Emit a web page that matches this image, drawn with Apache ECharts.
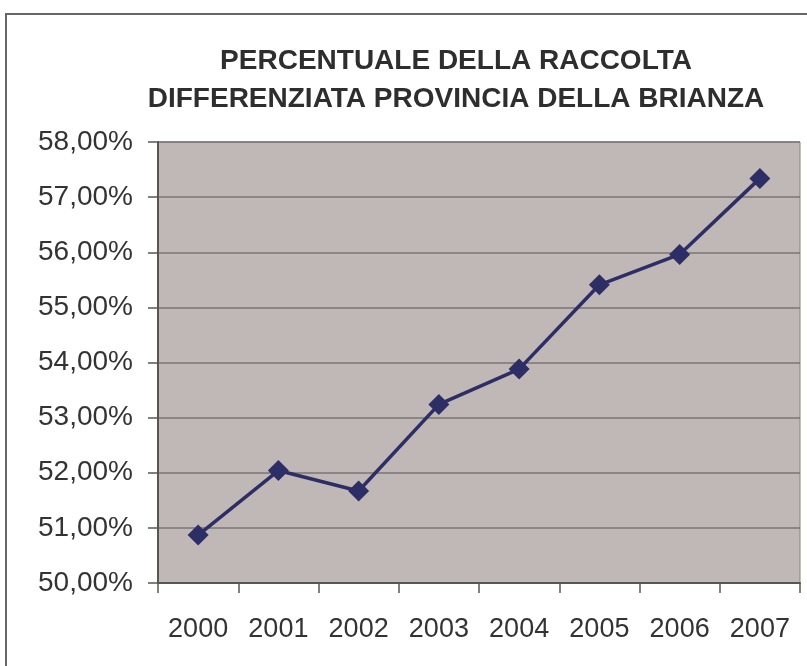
<!DOCTYPE html>
<html>
<head>
<meta charset="utf-8">
<script src="https://cdn.jsdelivr.net/npm/echarts@6/dist/echarts.min.js"></script>
<style>
  html, body { margin: 0; padding: 0; background: #fff; }
  #chart { width: 807px; height: 666px; }
</style>
</head>
<body>
<div id="chart"></div>
<script>
// anni e percentuale di raccolta differenziata
var years = ['2000', '2001', '2002', '2003', '2004', '2005', '2006', '2007'];
var percentuali = [50.87, 52.04, 51.67, 53.24, 53.88, 55.41, 55.96, 57.34];
var titleLines = ['PERCENTUALE DELLA RACCOLTA', 'DIFFERENZIATA PROVINCIA DELLA BRIANZA'];

var chart = echarts.init(document.getElementById('chart'));

chart.setOption({
    animation: false,
    backgroundColor: '#fff',
    title: {
        text: titleLines.join('\n'),
        left: 451,
        top: 37,
        textAlign: 'center',
        textStyle: {
            fontFamily: 'Liberation Sans',
            fontWeight: 'bold',
            fontSize: 28,
            lineHeight: 38,
            color: '#2e2e2e'
        }
    },
    graphic: [{
        type: 'rect',
        shape: { x: 6, y: 14, width: 900, height: 900 },
        style: { fill: 'none', stroke: '#666666', lineWidth: 2 },
        silent: true
    }],
    grid: {
        left: 158,
        right: 7,
        top: 142,
        bottom: 83,
        show: true,
        backgroundColor: '#c0b8b6',
        borderColor: '#8a8280',
        borderWidth: 1
    },
    xAxis: {
        type: 'category',
        data: years,
        boundaryGap: true,
        axisLine: { lineStyle: { color: '#5a5555', width: 2 } },
        axisTick: { show: true, length: 10, lineStyle: { color: '#5a5555', width: 1.5 } },
        axisLabel: {
            margin: 33,
            fontFamily: 'Liberation Sans',
            fontSize: 27,
            color: '#333333'
        }
    },
    yAxis: {
        type: 'value',
        min: 50,
        max: 58,
        interval: 1,
        axisLine: { show: true, lineStyle: { color: '#5a5555', width: 2 } },
        axisTick: { show: true, length: 10, lineStyle: { color: '#5a5555', width: 1.5 } },
        splitLine: { lineStyle: { color: '#7a7474', width: 1.5 } },
        axisLabel: {
            margin: 25,
            fontFamily: 'Liberation Sans',
            fontSize: 28,
            color: '#333333',
            formatter: function (v) {
                return v.toFixed(2).replace('.', ',') + '%';
            }
        }
    },
    series: [{
        type: 'line',
        data: percentuali,
        symbol: 'diamond',
        symbolSize: 21,
        lineStyle: { color: '#2e2e66', width: 3.5 },
        itemStyle: { color: '#2e2e66' }
    }]
});
</script>
</body>
</html>
